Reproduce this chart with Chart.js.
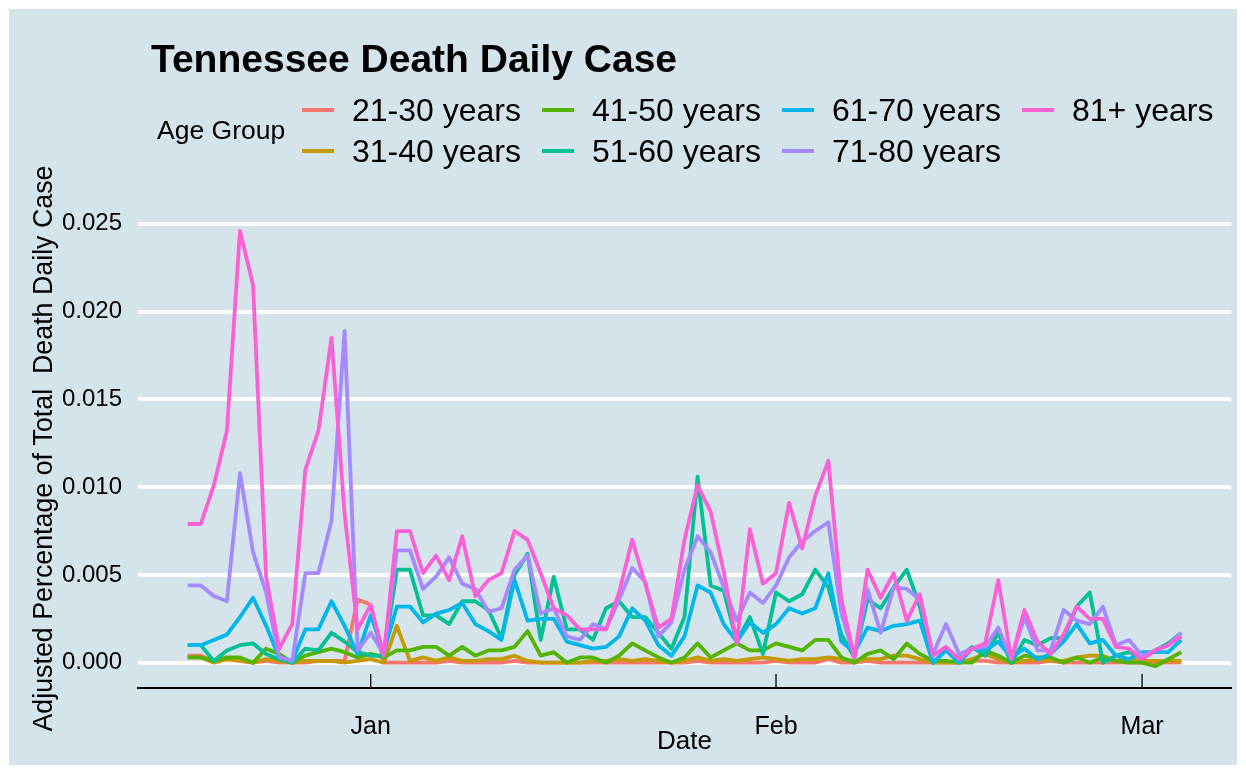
<!DOCTYPE html>
<html>
<head>
<meta charset="utf-8">
<script src="https://cdn.jsdelivr.net/npm/chart.js@4.4.1/dist/chart.umd.min.js"></script>
<style>
  html, body { margin: 0; padding: 0; background: #fff; }
  body { width: 1246px; height: 774px; position: relative; overflow: hidden;
         font-family: "Liberation Sans", Arial, sans-serif; color: #000; }
  #frame { position: absolute; left: 9px; top: 9px; width: 1228px; height: 756px; background: #d5e4eb; }
  #wrap { position: absolute; left: 0; top: 0; width: 1246px; height: 774px; }
  #title { position: absolute; left: 151px; top: 39px; font-size: 39px; line-height: 39px; font-weight: bold; white-space: nowrap; }
  #legendTitle { position: absolute; left: 157px; top: 117px; font-size: 26.5px; line-height: 26.5px; white-space: nowrap; }
  .item { position: absolute; height: 36px; line-height: 36px; display: flex; align-items: center; white-space: nowrap; font-size: 32px; }
  .item .sw { display: inline-block; width: 32px; height: 4px; margin-right: 18px; }
</style>
</head>
<body>
<div id="frame"></div>
<div id="wrap"><canvas id="deathChart"></canvas></div>
<div id="title">Tennessee Death Daily Case</div>
<div id="legendTitle">Age Group</div>
<div id="legend"></div>
<script>
// DATA
const startDate = [2020, 11, 18];   // first day: 18 Dec 2020
const monthNames = ['Jan', 'Feb', 'Mar', 'Apr', 'May', 'Jun', 'Jul', 'Aug', 'Sep', 'Oct', 'Nov', 'Dec'];
const ageGroups = ['21-30 years', '31-40 years', '41-50 years', '51-60 years', '61-70 years', '71-80 years', '81+ years'];
const groupColors = ['#F8766D', '#C49A00', '#53B400', '#00C094', '#00B6EB', '#A58AFF', '#FB61D7'];
const yTicks = [0, 0.005, 0.010, 0.015, 0.020, 0.025];

const age21_30 = [0.0004, 0.0004, 0.0001, 0.0002, 0.0001, 0.0000, 0.0001, 0.0000, 0.0000, 0.0000,
                  0.0001, 0.0001, 0.0001, 0.0036, 0.0033, 0.0000, 0.0000, 0.0000, 0.0000, 0.0000,
                  0.0001, 0.0000, 0.0000, 0.0000, 0.0000, 0.0001, 0.0000, 0.0000, 0.0000, 0.0000,
                  0.0000, 0.0000, 0.0000, 0.0000, 0.0000, 0.0000, 0.0000, 0.0000, 0.0000, 0.0001,
                  0.0000, 0.0000, 0.0000, 0.0000, 0.0000, 0.0001, 0.0000, 0.0000, 0.0000, 0.0002,
                  0.0000, 0.0000, 0.0001, 0.0000, 0.0000, 0.0000, 0.0000, 0.0000, 0.0000, 0.0000,
                  0.0001, 0.0001, 0.0000, 0.0000, 0.0000, 0.0000, 0.0001, 0.0000, 0.0000, 0.0000,
                  0.0000, 0.0000, 0.0000, 0.0000, 0.0000, 0.0000, 0.0000];
const age31_40 = [0.0003, 0.0003, 0.0000, 0.0002, 0.0001, 0.0000, 0.0002, 0.0001, 0.0000, 0.0001,
                  0.0001, 0.0001, 0.0000, 0.0001, 0.0002, 0.0000, 0.0021, 0.0001, 0.0003, 0.0001,
                  0.0003, 0.0001, 0.0001, 0.0002, 0.0002, 0.0004, 0.0001, 0.0000, 0.0000, 0.0000,
                  0.0000, 0.0001, 0.0001, 0.0002, 0.0001, 0.0002, 0.0001, 0.0000, 0.0001, 0.0003,
                  0.0001, 0.0002, 0.0001, 0.0002, 0.0003, 0.0002, 0.0001, 0.0002, 0.0002, 0.0003,
                  0.0002, 0.0001, 0.0002, 0.0002, 0.0004, 0.0004, 0.0002, 0.0000, 0.0000, 0.0000,
                  0.0002, 0.0005, 0.0002, 0.0000, 0.0001, 0.0002, 0.0001, 0.0001, 0.0003, 0.0004,
                  0.0004, 0.0001, 0.0002, 0.0001, 0.0001, 0.0001, 0.0001];
const age41_50 = [0.0003, 0.0003, 0.0001, 0.0003, 0.0003, 0.0000, 0.0008, 0.0005, 0.0000, 0.0004,
                  0.0006, 0.0008, 0.0006, 0.0003, 0.0005, 0.0003, 0.0007, 0.0007, 0.0009, 0.0009,
                  0.0004, 0.0009, 0.0004, 0.0007, 0.0007, 0.0009, 0.0018, 0.0004, 0.0006, 0.0000,
                  0.0003, 0.0003, 0.0000, 0.0004, 0.0011, 0.0007, 0.0003, 0.0000, 0.0003, 0.0011,
                  0.0003, 0.0007, 0.0011, 0.0007, 0.0007, 0.0011, 0.0009, 0.0007, 0.0013, 0.0013,
                  0.0003, 0.0000, 0.0005, 0.0007, 0.0002, 0.0011, 0.0005, 0.0001, 0.0001, 0.0000,
                  0.0000, 0.0007, 0.0004, 0.0000, 0.0004, 0.0003, 0.0003, 0.0000, 0.0003, 0.0000,
                  0.0003, 0.0001, 0.0000, 0.0000, -0.0002, 0.0002, 0.0006];
const age51_60 = [0.0010, 0.0010, 0.0001, 0.0007, 0.0010, 0.0011, 0.0005, 0.0002, 0.0000, 0.0008,
                  0.0007, 0.0017, 0.0012, 0.0006, 0.0004, 0.0004, 0.0053, 0.0053, 0.0027, 0.0027,
                  0.0022, 0.0035, 0.0035, 0.0030, 0.0014, 0.0050, 0.0062, 0.0013, 0.0049, 0.0019,
                  0.0019, 0.0013, 0.0031, 0.0035, 0.0026, 0.0026, 0.0017, 0.0008, 0.0026, 0.0106,
                  0.0044, 0.0041, 0.0012, 0.0026, 0.0005, 0.0040, 0.0035, 0.0039, 0.0053, 0.0043,
                  0.0016, 0.0003, 0.0036, 0.0031, 0.0043, 0.0053, 0.0032, 0.0000, 0.0007, 0.0003,
                  0.0009, 0.0004, 0.0017, 0.0000, 0.0013, 0.0010, 0.0014, 0.0014, 0.0032, 0.0040,
                  0.0000, 0.0004, 0.0006, 0.0003, 0.0007, 0.0011, 0.0017];
const age61_70 = [0.0010, 0.0010, 0.0013, 0.0016, 0.0026, 0.0037, 0.0021, 0.0003, 0.0001, 0.0019,
                  0.0019, 0.0035, 0.0021, 0.0005, 0.0027, 0.0006, 0.0032, 0.0032, 0.0023, 0.0028,
                  0.0030, 0.0034, 0.0022, 0.0018, 0.0013, 0.0047, 0.0024, 0.0025, 0.0025, 0.0012,
                  0.0010, 0.0008, 0.0009, 0.0015, 0.0031, 0.0024, 0.0010, 0.0004, 0.0015, 0.0044,
                  0.0040, 0.0022, 0.0012, 0.0023, 0.0017, 0.0022, 0.0031, 0.0028, 0.0031, 0.0051,
                  0.0012, 0.0006, 0.0020, 0.0018, 0.0021, 0.0022, 0.0024, 0.0000, 0.0007, 0.0000,
                  0.0008, 0.0007, 0.0012, 0.0003, 0.0008, 0.0002, 0.0005, 0.0012, 0.0022, 0.0011,
                  0.0013, 0.0004, 0.0002, 0.0006, 0.0006, 0.0006, 0.0013];
const age71_80 = [0.0044, 0.0044, 0.0038, 0.0035, 0.0108, 0.0063, 0.0040, 0.0003, 0.0001, 0.0051,
                  0.0051, 0.0081, 0.0189, 0.0007, 0.0017, 0.0005, 0.0064, 0.0064, 0.0042, 0.0049,
                  0.0060, 0.0045, 0.0042, 0.0029, 0.0031, 0.0053, 0.0061, 0.0028, 0.0031, 0.0015,
                  0.0013, 0.0022, 0.0019, 0.0036, 0.0054, 0.0046, 0.0015, 0.0023, 0.0053, 0.0072,
                  0.0063, 0.0043, 0.0024, 0.0040, 0.0034, 0.0044, 0.0060, 0.0069, 0.0075, 0.0080,
                  0.0028, 0.0003, 0.0042, 0.0017, 0.0043, 0.0042, 0.0036, 0.0005, 0.0022, 0.0005,
                  0.0008, 0.0009, 0.0020, 0.0002, 0.0026, 0.0007, 0.0007, 0.0030, 0.0024, 0.0022,
                  0.0032, 0.0010, 0.0013, 0.0004, 0.0007, 0.0010, 0.0017];
const age81plus = [0.0079, 0.0079, 0.0101, 0.0132, 0.0246, 0.0215, 0.0049, 0.0008, 0.0022, 0.0110,
                   0.0132, 0.0185, 0.0085, 0.0019, 0.0033, 0.0004, 0.0075, 0.0075, 0.0051, 0.0061,
                   0.0047, 0.0072, 0.0038, 0.0047, 0.0051, 0.0075, 0.0070, 0.0051, 0.0031, 0.0027,
                   0.0019, 0.0019, 0.0019, 0.0040, 0.0070, 0.0045, 0.0020, 0.0025, 0.0070, 0.0101,
                   0.0086, 0.0052, 0.0011, 0.0076, 0.0045, 0.0051, 0.0091, 0.0065, 0.0095, 0.0115,
                   0.0036, 0.0003, 0.0053, 0.0037, 0.0051, 0.0024, 0.0039, 0.0004, 0.0009, 0.0002,
                   0.0008, 0.0011, 0.0047, 0.0002, 0.0030, 0.0012, 0.0005, 0.0016, 0.0032, 0.0025,
                   0.0025, 0.0009, 0.0008, 0.0002, 0.0007, 0.0010, 0.0015];

const seriesValues = [age21_30, age31_40, age41_50, age51_60, age61_70, age71_80, age81plus];

window.addEventListener('load', function () {
    buildLegend();
    drawChart();
});

// day index -> calendar date
function dayDates(n) {
    const out = [];
    for (let i = 0; i < n; i++) {
        out.push(new Date(startDate[0], startDate[1], startDate[2] + i));
    }
    return out;
}

// LEGEND (two rows, filled column by column like ggplot)
function buildLegend() {
    const box = document.getElementById('legend');
    ageGroups.forEach((g, k) => {
        const item = document.createElement('div');
        item.className = 'item';
        item.style.left = (302 + Math.floor(k / 2) * 240) + 'px';
        item.style.top = (k % 2 === 0 ? 92 : 132.5) + 'px';
        item.innerHTML = '<span class="sw" style="background:' + groupColors[k] + '"></span><span>' + g + '</span>';
        box.appendChild(item);
    });
}

// tick marks pointing into the panel
const innerTicks = {
    id: 'innerTicks',
    afterDraw(chart) {
        const xs = chart.scales.x;
        const ctx = chart.ctx;
        const b = chart.chartArea.bottom;
        ctx.save();
        ctx.strokeStyle = '#000';
        ctx.lineWidth = 1.3;
        xs.ticks.forEach(t => {
            const px = xs.getPixelForValue(t.value);
            ctx.beginPath();
            ctx.moveTo(px, b - 14);
            ctx.lineTo(px, b);
            ctx.stroke();
        });
        ctx.restore();
    }
};

function drawChart() {
    const dates = dayDates(age81plus.length);
    const monthStarts = [];
    dates.forEach((d, i) => { if (d.getDate() === 1) monthStarts.push(i); });
    const last = dates.length - 1;
    const pad = last * 0.05;

    Chart.defaults.font.family = '"Liberation Sans", Arial, sans-serif';
    Chart.defaults.color = '#000';

    const ctx = document.getElementById('deathChart').getContext('2d');
    new Chart(ctx, {
        type: 'line',
        data: {
            datasets: ageGroups.map((g, k) => ({
                label: g,
                data: seriesValues[k].map((v, i) => ({ x: i, y: v })),
                borderColor: groupColors[k],
                backgroundColor: groupColors[k],
                borderWidth: 3.8,
                borderJoinStyle: 'round',
                pointRadius: 0,
                tension: 0,
                order: ageGroups.length - 1 - k
            }))
        },
        options: {
            responsive: true,
            maintainAspectRatio: false,
            animation: false,
            layout: { padding: { top: 209, right: 15, bottom: 0, left: 0 } },
            plugins: {
                legend: { display: false },
                tooltip: { enabled: false }
            },
            scales: {
                x: {
                    type: 'linear',
                    min: -pad,
                    max: last + pad,
                    afterBuildTicks: s => { s.ticks = monthStarts.map(v => ({ value: v })); },
                    afterFit: s => { s.height = 86; },
                    grid: { display: false },
                    border: { display: true, color: '#000', width: 2 },
                    ticks: {
                        autoSkip: false,
                        maxRotation: 0,
                        padding: 16,
                        font: { size: 25 },
                        callback: v => monthNames[dates[v].getMonth()]
                    },
                    title: {
                        display: true,
                        text: 'Date',
                        font: { size: 26 },
                        padding: { top: 0, bottom: 17 }
                    }
                },
                y: {
                    min: -0.00144,
                    max: 0.02584,
                    afterBuildTicks: s => { s.ticks = yTicks.map(v => ({ value: v })); },
                    afterFit: s => { s.width = 138; },
                    grid: { color: '#fff', lineWidth: 4, drawTicks: false },
                    border: { display: false },
                    ticks: {
                        padding: 16,
                        font: { size: 24 },
                        callback: v => v.toFixed(3)
                    },
                    title: {
                        display: true,
                        text: 'Adjusted Percentage of Total  Death Daily Case',
                        font: { size: 26.8 },
                        padding: { top: 29, bottom: 0 }
                    }
                }
            }
        },
        plugins: [innerTicks]
    });
}
</script>
</body>
</html>
